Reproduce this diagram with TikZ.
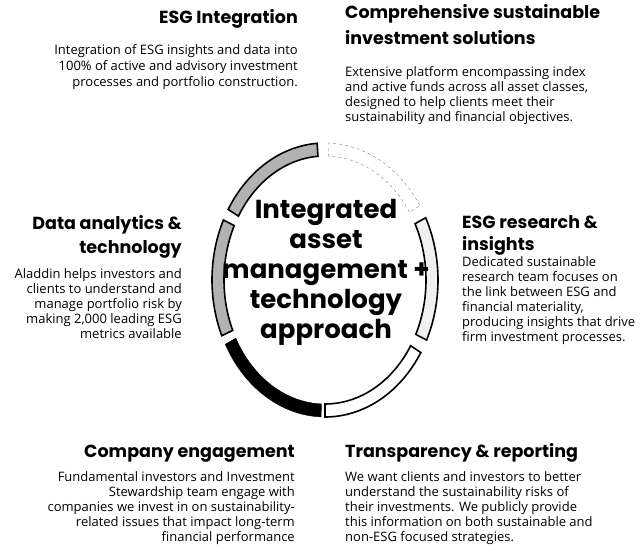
\documentclass[tikz,border=0pt]{standalone}
\usepackage{fontspec}
\newfontfamily\headfont{Poppins}
\newfontfamily\bodyfont{Open Sans}
\usetikzlibrary{calc}

\newcommand{\ringpart}[3]{%
  \path[#3] (ctr) ++(#1:113 and 137) arc[start angle=#1,end angle=#2,x radius=113,y radius=137]
    -- ($(ctr)+(#2:101 and 124)$) arc[start angle=#2,end angle=#1,x radius=101,y radius=124] -- cycle;}

\begin{document}
\begin{tikzpicture}[x=1pt,y=1pt,
  head/.style={font=\headfont\bfseries\fontsize{17.5}{24}\selectfont, inner sep=0pt},
  body/.style={font=\bodyfont\fontsize{13}{15}\selectfont, inner sep=0pt}]
\useasboundingbox (0,0) rectangle (640,559);
\coordinate (ctr) at (325,279);

% ring
\ringpart{94}{149}{fill=black!30, draw=black, line width=1.6pt}
\ringpart{154}{204}{fill=black!30, draw=black, line width=1.6pt}
\ringpart{208}{268}{fill=black, draw=black}
\ringpart{-90}{-32}{fill=white, draw=black, line width=1.6pt}
\ringpart{-26}{27}{fill=black!6, draw=black, line width=1.6pt}
\ringpart{33}{88}{draw=black!50, dashed, thin}

\node[font=\headfont\bfseries\fontsize{26}{30}\selectfont, align=center, inner sep=0pt] (core) at (326,287) {Integrated\\asset\\management +\\technology\\approach};

% top left
\node[head, anchor=base east] (integ) at (298,535) {ESG Integration};
\node[body, align=right, anchor=base east, font=\bodyfont\fontsize{13}{16}\selectfont] (integtext) at (298,472) {Integration of ESG insights and data into\\100\% of active and advisory investment\\processes and portfolio construction.};

% top right
\node[head, align=left, anchor=base west, font=\headfont\bfseries\fontsize{17.5}{26}\selectfont] (solutions) at (345,514) {Comprehensive sustainable\\investment solutions};
\node[body, align=left, anchor=base west] (solutionstext) at (345,437) {Extensive platform encompassing index\\and active funds across all asset classes,\\designed to help clients meet their\\sustainability and financial objectives.};

% left
\node[head, align=right, anchor=base east] (data) at (182,305) {Data analytics \&\\technology};
\node[body, align=right, anchor=base east] (datatext) at (182,220) {Aladdin helps investors and\\clients to understand and\\manage portfolio risk by\\making 2,000 leading ESG\\metrics available};

% right
\node[head, align=left, anchor=base west, font=\headfont\bfseries\fontsize{17.5}{22}\selectfont] (research) at (462,308) {ESG research \&\\insights};
\node[body, align=left, anchor=base west] (researchtext) at (462,217) {Dedicated sustainable\\research team focuses on\\the link between ESG and\\financial materiality,\\producing insights that drive\\firm investment processes.};

% bottom left
\node[head, anchor=base east] (engage) at (295,101) {Company engagement};
\node[body, align=right, anchor=base east] (engagetext) at (295,17) {Fundamental investors and Investment\\Stewardship team engage with\\companies we invest in on sustainability-\\related issues that impact long-term\\financial performance};

% bottom right
\node[head, anchor=base west] (report) at (345,101) {Transparency \& reporting};
\node[body, align=left, anchor=base west] (reporttext) at (345,17) {We want clients and investors to better\\understand the sustainability risks of\\their investments. We publicly provide\\this information on both sustainable and\\non-ESG focused strategies.};
\end{tikzpicture}
\end{document}
